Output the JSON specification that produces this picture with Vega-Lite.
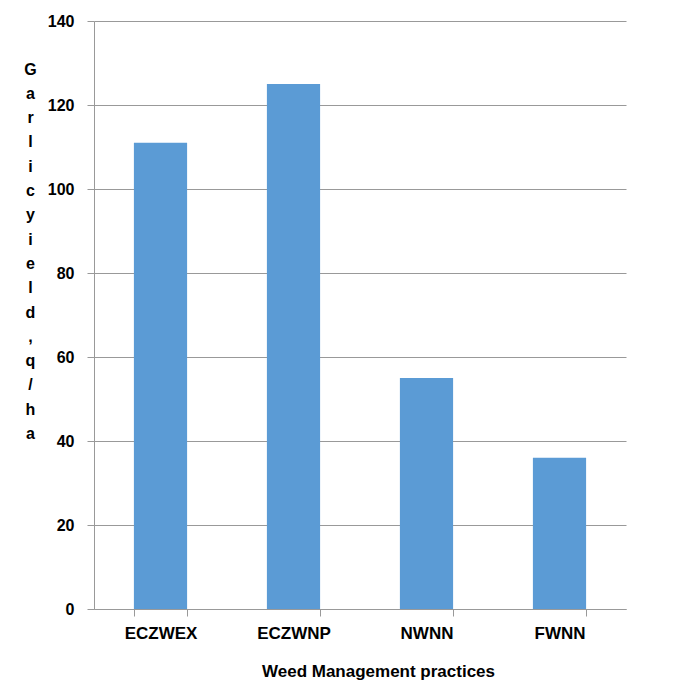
{
  "$schema": "https://vega.github.io/schema/vega-lite/v6.json",
  "width": 532,
  "height": 588,
  "autosize": {"type": "none"},
  "padding": {"left": 94, "top": 21, "right": 56, "bottom": 72},
  "background": "white",
  "config": {"view": {"stroke": null}, "font": "Liberation Sans"},
  "data": {"values": [
    {"practice": "ECZWEX", "yield": 111},
    {"practice": "ECZWNP", "yield": 125},
    {"practice": "NWNN", "yield": 55},
    {"practice": "FWNN", "yield": 36}
  ]},
  "mark": {"type": "bar", "color": "#5B9BD5"},
  "encoding": {
    "x": {
      "field": "practice", "type": "nominal", "sort": null,
      "scale": {"paddingInner": 0.6, "paddingOuter": 0.3},
      "axis": {
        "title": "Weed Management practices",
        "titleFont": "Liberation Sans", "titleFontSize": 17, "titleFontWeight": "bold", "titleColor": "#000",
        "titleX": 284, "titleY": 54, "titleBaseline": "top",
        "labelAngle": 0, "labelFont": "Liberation Sans", "labelFontSize": 17, "labelFontWeight": "bold", "labelColor": "#000",
        "labelPadding": 9,
        "tickBand": "extent", "tickSize": 7, "tickColor": "#999", "domainColor": "#999",
        "grid": false
      }
    },
    "y": {
      "field": "yield", "type": "quantitative",
      "scale": {"domain": [0, 140], "nice": false},
      "axis": {
        "values": [0, 20, 40, 60, 80, 100, 120, 140],
        "title": ["G","a","r","l","i","c","y","i","e","l","d",",","q","/","h","a"],
        "titleAngle": 0, "titleAlign": "center", "titleBaseline": "top",
        "titleX": -64, "titleY": 40, "titleLineHeight": 24.3,
        "titleFont": "Liberation Sans", "titleFontSize": 16, "titleFontWeight": "bold", "titleColor": "#000",
        "labelFont": "Liberation Sans", "labelFontSize": 16, "labelFontWeight": "bold", "labelColor": "#000",
        "labelPadding": 13,
        "tickSize": 7, "tickColor": "#999", "domainColor": "#999",
        "grid": true, "gridColor": "#999"
      }
    }
  }
}
